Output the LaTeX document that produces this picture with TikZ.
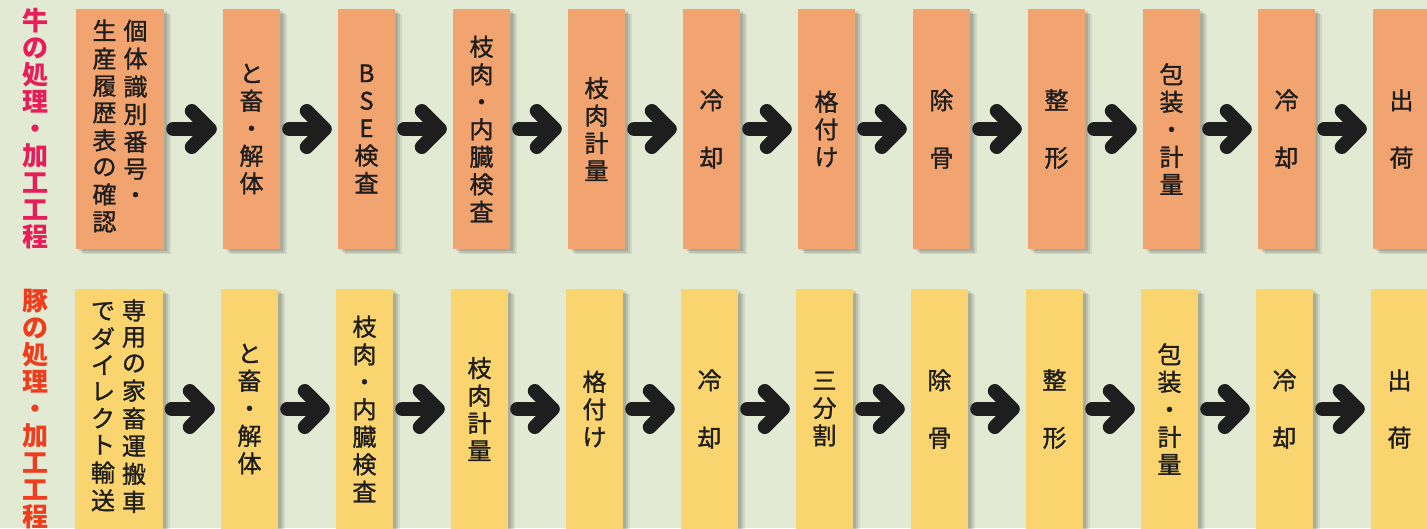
\documentclass[tikz,border=0pt]{standalone}
\usepackage{fontspec}
\setmainfont{Noto Sans CJK JP}
\newfontfamily\stagefont{Noto Sans CJK JP}[FakeBold=1.2]
\usepackage{xcolor}
\usepackage{tikz}
\usetikzlibrary{arrows.meta, shadows}
\definecolor{paper}{RGB}{226, 234, 212}
\definecolor{beef}{RGB}{241, 163, 112}
\definecolor{pork}{RGB}{250, 212, 110}
\definecolor{beeftitle}{RGB}{232, 30, 90}
\definecolor{porktitle}{RGB}{238, 62, 30}
\definecolor{arrowink}{RGB}{30, 30, 30}
\newcommand{\tate}[1]{\begin{tabular}[t]{@{}c@{}}#1\end{tabular}}
\tikzstyle{stage} = [rectangle, minimum width=57pt, minimum height=240pt, inner sep=0pt, align=center, text=arrowink, font=\stagefont\fontsize{24}{27.5}\selectfont,
  general shadow={shadow xshift=3pt, shadow yshift=-2pt, fill=black, opacity=.10},
  general shadow={shadow xshift=5pt, shadow yshift=-4pt, fill=black, opacity=.10},
  general shadow={shadow xshift=7pt, shadow yshift=-5pt, fill=black, opacity=.08}]
\tikzstyle{beefstage} = [stage, fill=beef]
\tikzstyle{porkstage} = [stage, fill=pork]
\tikzstyle{rowtitle} = [align=center, inner sep=0pt, font=\fontsize{26}{27}\selectfont\bfseries]
\tikzstyle{arrow} = [line width=14pt, arrowink, line cap=round, -{Straight Barb[length=18pt, width=36pt, round]}, shorten <=9pt, shorten >=6pt]

\begin{document}
\begin{tikzpicture}[x=1pt, y=-1pt]
    \useasboundingbox (0,0) rectangle (1427,528);
    \fill[paper] (0,0) rectangle (1427,528);

    % Row titles
    \node[rowtitle, text=beeftitle] (t1) at (35,129) {牛\\の\\処\\理\\・\\加\\工\\工\\程};
    \node[rowtitle, text=porktitle] (t2) at (35,409) {豚\\の\\処\\理\\・\\加\\工\\工\\程};

    % Beef stages
    \node[beefstage, minimum width=88pt, font=\stagefont\fontsize{24}{26}\selectfont] (b1) at (120,129) {\tate{生\\産\\履\\歴\\表\\の\\確\\認}\hspace{7pt}\tate{個\\体\\識\\別\\番\\号\\・}};
    \node[beefstage] (b2) at (251.5,129) {と\\畜\\・\\解\\体};
    \node[beefstage] (b3) at (366.5,129) {B\\S\\E\\検\\査};
    \node[beefstage] (b4) at (481.5,129) {枝\\肉\\・\\内\\臓\\検\\査};
    \node[beefstage] (b5) at (596.5,129) {枝\\肉\\計\\量};
    \node[beefstage] (b6) at (711.5,129) {冷\\[30pt]却};
    \node[beefstage] (b7) at (826.5,129) {格\\付\\け};
    \node[beefstage] (b8) at (941.5,129) {除\\[30pt]骨};
    \node[beefstage] (b9) at (1056.5,129) {整\\[30pt]形};
    \node[beefstage] (b10) at (1171.5,129) {包\\装\\・\\計\\量};
    \node[beefstage] (b11) at (1286.5,129) {冷\\[30pt]却};
    \node[beefstage] (b12) at (1401.5,129) {出\\[30pt]荷};

    % Pork stages
    \node[porkstage, minimum width=88pt, font=\stagefont\fontsize{24}{26}\selectfont] (p1) at (118.5,409) {\tate{で\\ダ\\イ\\レ\\ク\\ト\\輸\\送}\hspace{7pt}\tate{専\\用\\の\\家\\畜\\運\\搬\\車}};
    \node[porkstage] (p2) at (249.5,409) {と\\畜\\・\\解\\体};
    \node[porkstage] (p3) at (364.5,409) {枝\\肉\\・\\内\\臓\\検\\査};
    \node[porkstage] (p4) at (479.5,409) {枝\\肉\\計\\量};
    \node[porkstage] (p5) at (594.5,409) {格\\付\\け};
    \node[porkstage] (p6) at (709.5,409) {冷\\[30pt]却};
    \node[porkstage] (p7) at (824.5,409) {三\\分\\割};
    \node[porkstage] (p8) at (939.5,409) {除\\[30pt]骨};
    \node[porkstage] (p9) at (1054.5,409) {整\\[30pt]形};
    \node[porkstage] (p10) at (1169.5,409) {包\\装\\・\\計\\量};
    \node[porkstage] (p11) at (1284.5,409) {冷\\[30pt]却};
    \node[porkstage] (p12) at (1399.5,409) {出\\[30pt]荷};

    % Beef flow
    \draw[arrow] (b1) -- (b2);
    \draw[arrow] (b2) -- (b3);
    \draw[arrow] (b3) -- (b4);
    \draw[arrow] (b4) -- (b5);
    \draw[arrow] (b5) -- (b6);
    \draw[arrow] (b6) -- (b7);
    \draw[arrow] (b7) -- (b8);
    \draw[arrow] (b8) -- (b9);
    \draw[arrow] (b9) -- (b10);
    \draw[arrow] (b10) -- (b11);
    \draw[arrow] (b11) -- (b12);

    % Pork flow
    \draw[arrow] (p1) -- (p2);
    \draw[arrow] (p2) -- (p3);
    \draw[arrow] (p3) -- (p4);
    \draw[arrow] (p4) -- (p5);
    \draw[arrow] (p5) -- (p6);
    \draw[arrow] (p6) -- (p7);
    \draw[arrow] (p7) -- (p8);
    \draw[arrow] (p8) -- (p9);
    \draw[arrow] (p9) -- (p10);
    \draw[arrow] (p10) -- (p11);
    \draw[arrow] (p11) -- (p12);
\end{tikzpicture}
\end{document}
